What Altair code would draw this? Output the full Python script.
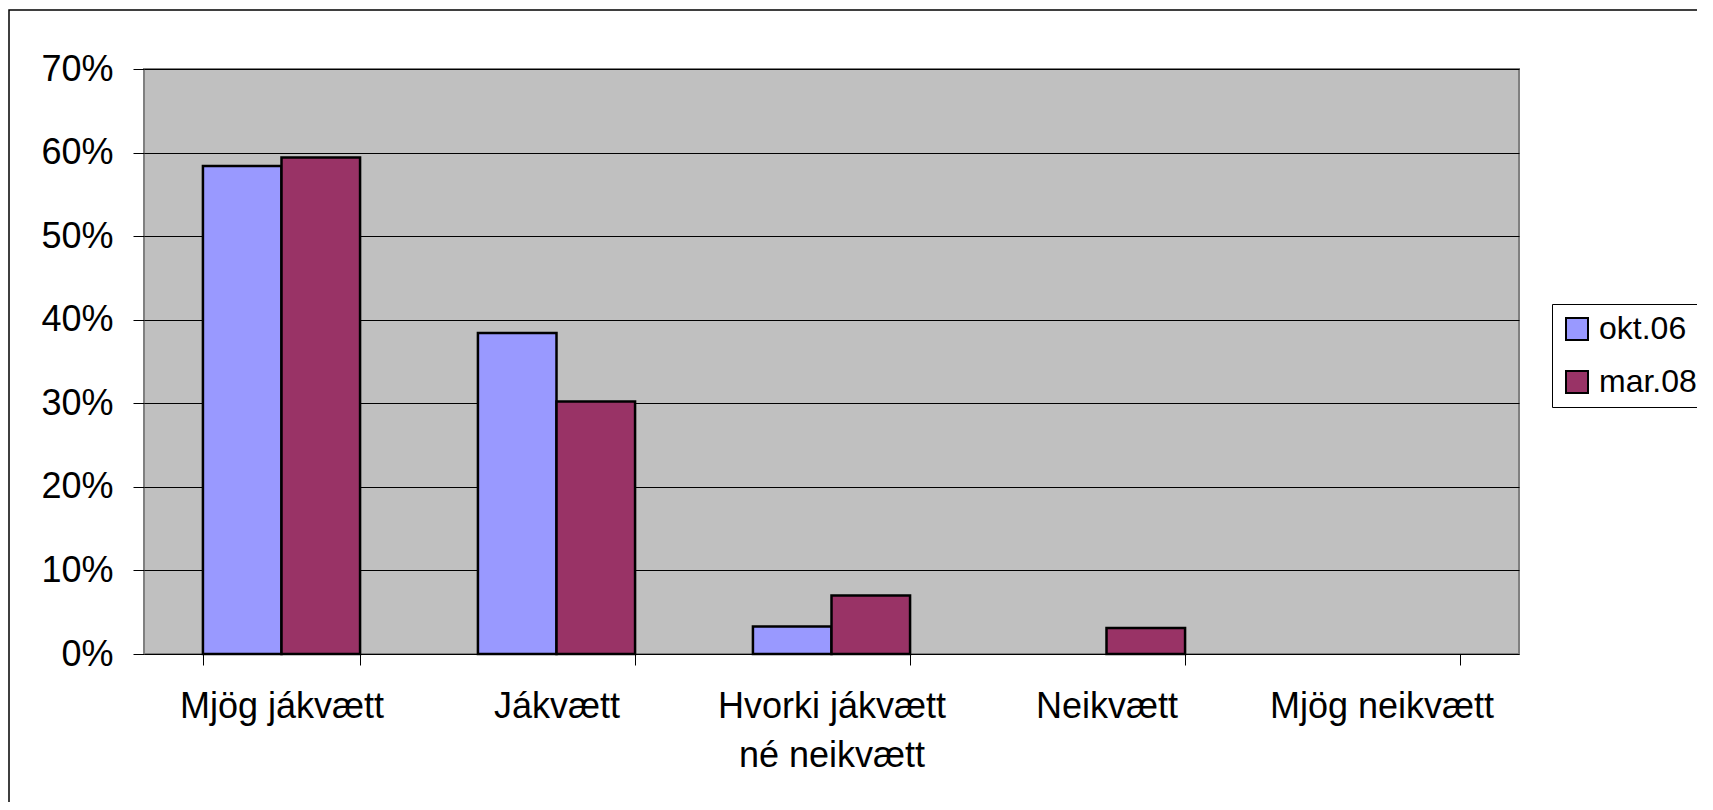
import altair as alt
import pandas as pd

categories = ["Mjög jákvætt", "Jákvætt", "Hvorki jákvætt\nné neikvætt", "Neikvætt", "Mjög neikvætt"]
series = ["okt.06", "mar.08"]
okt06 = [0.584, 0.384, 0.033, 0.0, 0.0]
mar08 = [0.594, 0.302, 0.070, 0.031, 0.0]
colors = ["#9999FF", "#993366"]
y_ticks = [0.0, 0.1, 0.2, 0.3, 0.4, 0.5, 0.6, 0.7]

rows = []
for i, c in enumerate(categories):
    rows.append({"cat": c, "series": series[0], "value": okt06[i]})
    rows.append({"cat": c, "series": series[1], "value": mar08[i]})
df = pd.DataFrame(rows)
df = df[df["value"] > 0]

FONT = "Liberation Sans"

bars = alt.Chart(df).mark_bar(stroke="black", strokeWidth=2.5).encode(
    x=alt.X(
        "cat:N",
        sort=categories,
        scale=alt.Scale(domain=categories, paddingInner=0.4286, paddingOuter=0.2143),
        axis=alt.Axis(
            title=None,
            labelAngle=0,
            labelFont=FONT,
            labelFontSize=36,
            labelColor="black",
            labelPadding=24,
            labelLimit=0,
            labelLineHeight=49,
            labelExpr="split(datum.label, '\\n')",
            tickBand="extent",
            tickSize=11,
            tickColor="#000000",
            tickWidth=1,
            domain=False,
            grid=False,
        ),
    ),
    xOffset=alt.XOffset("series:N", scale=alt.Scale(domain=series, paddingInner=0, paddingOuter=0)),
    y=alt.Y(
        "value:Q",
        scale=alt.Scale(domain=[0, 0.7], nice=False),
        axis=alt.Axis(
            title=None,
            values=y_ticks,
            format=".0%",
            labelFont=FONT,
            labelFontSize=36,
            labelColor="black",
            labelPadding=20,
            tickSize=11,
            tickColor="#000000",
            tickWidth=1,
            domain=False,
            grid=True,
            gridColor="#000000",
            gridWidth=1,
        ),
    ),
    color=alt.Color(
        "series:N",
        scale=alt.Scale(domain=series, range=colors),
        legend=alt.Legend(
            title=None,
            orient="none",
            legendX=1408,
            legendY=235,
            symbolType="square",
            symbolSize=484,
            symbolStrokeColor="black",
            symbolStrokeWidth=2,
            symbolOpacity=1,
            labelFont=FONT,
            labelFontSize=32,
            labelColor="black",
            labelOffset=6,
            rowPadding=21,
            padding=9,
            strokeColor="black",
            fillColor="white",
        ),
    ),
)

frame = alt.Chart(pd.DataFrame({"f": [0]})).mark_rect(
    fill="transparent", stroke="black", strokeWidth=1.5
).encode(
    x=alt.value(-135), x2=alt.value(1700), y=alt.value(-59), y2=alt.value(900)
)

chart = alt.layer(frame, bars).properties(
    width=1375,
    height=585,
    autosize=alt.AutoSizeParams(type="none"),
    padding={"left": 136, "top": 61, "right": 178, "bottom": 148},
).configure(
    background="white",
    view=alt.ViewConfig(fill="#C0C0C0", stroke="#808080", strokeWidth=2),
)

chart.save("out.html", embed_options={"renderer": "svg", "actions": False})
